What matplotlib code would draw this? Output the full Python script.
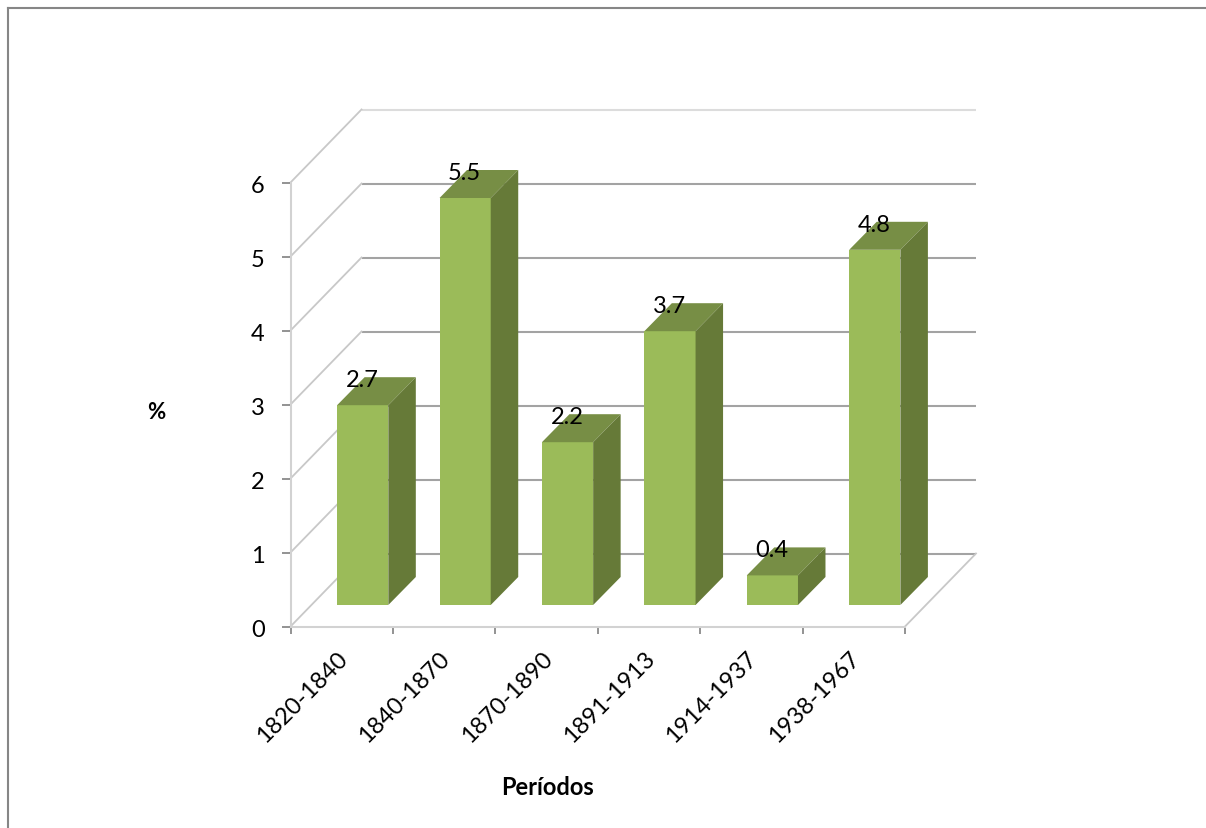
import matplotlib
matplotlib.use('Agg')
import matplotlib.pyplot as plt
from matplotlib.lines import Line2D
from matplotlib.patches import Polygon
from matplotlib.transforms import ScaledTranslation

periods = ['1820-1840', '1840-1870', '1870-1890', '1891-1913', '1914-1937', '1938-1967']
values = [2.7, 5.5, 2.2, 3.7, 0.4, 4.8]
y_ticks = [0, 1, 2, 3, 4, 5, 6]

plt.rcParams['font.family'] = ['Lato', 'DejaVu Sans']

W, H = 1206, 829
fig = plt.figure(figsize=(W / 100, H / 100), dpi=100, facecolor='white')
ax = fig.add_axes([290.5 / W, 1 - 627.5 / H, 614.5 / W, 444 / H])
ax.set_xlim(0, 6)
ax.set_ylim(0, 6)

# size of one pixel in data units, used for the fake depth of the 3d look
px_x = 6 / 614.5
px_y = 6 / 444
wall_dx, wall_dy = 71 * px_x, 73 * px_y
floor_dx, floor_dy = 21 * px_x, 21.5 * px_y
bar_dx, bar_dy = 27.5 * px_x, 28 * px_y
bar_w = 0.5

# back wall gridlines and side wall lines
for v in y_ticks:
    grid_col = '#dcdcdc' if v == 6 else '#a3a3a3'
    ax.plot([wall_dx, 6 + wall_dx], [v + wall_dy, v + wall_dy], color=grid_col, lw=1.5,
            clip_on=False, zorder=1, solid_capstyle='butt')
    ax.plot([0, wall_dx], [v, v + wall_dy], color='#c8c8c8', lw=1.3, clip_on=False, zorder=1)
ax.plot([6, 6 + wall_dx], [0, wall_dy], color='#c8c8c8', lw=1.3, clip_on=False, zorder=1)

# bars: front, top and side faces
for i, val in enumerate(values):
    x0 = i + 0.5 + floor_dx - bar_w / 2
    x1 = x0 + bar_w
    y0 = floor_dy
    y1 = val + floor_dy
    ax.add_patch(Polygon([(x0, y0), (x1, y0), (x1, y1), (x0, y1)], closed=True,
                         facecolor='#9bbb59', edgecolor='none', clip_on=False, zorder=3))
    ax.add_patch(Polygon([(x0, y1), (x1, y1), (x1 + bar_dx, y1 + bar_dy), (x0 + bar_dx, y1 + bar_dy)],
                         closed=True, facecolor='#778e45', edgecolor='none', clip_on=False, zorder=3))
    ax.add_patch(Polygon([(x1, y0), (x1 + bar_dx, y0 + bar_dy), (x1 + bar_dx, y1 + bar_dy), (x1, y1)],
                         closed=True, facecolor='#667a38', edgecolor='none', clip_on=False, zorder=3))
    ax.annotate(f'{val}', xy=((x0 + x1) / 2, y1), xytext=(-0.5, 18.5), textcoords='offset points',
                ha='center', va='center', fontsize=17, color='black', zorder=5, annotation_clip=False)

# axes, ticks and labels
for side in ['top', 'right']:
    ax.spines[side].set_visible(False)
for side in ['left', 'bottom']:
    ax.spines[side].set_color('#d2d2d2')
    ax.spines[side].set_linewidth(1.5)

ax.set_yticks(y_ticks)
ax.set_xticks(range(7))
ax.set_xticklabels([])
ax.set_xticks([i + 0.5 for i in range(6)], minor=True)
ax.set_xticklabels(periods, minor=True, rotation=45, ha='right', rotation_mode='anchor', fontsize=17)
ax.tick_params(axis='y', length=6.5, width=1.2, color='#808080', labelsize=17, pad=12)
ax.tick_params(axis='x', which='major', length=5, width=1.2, color='#808080')
ax.tick_params(axis='x', which='minor', length=0, pad=15)

# nudge the tick labels a little
x_shift = ScaledTranslation(-5 / 100, 0, fig.dpi_scale_trans)
for lab in ax.get_xticklabels(minor=True):
    lab.set_transform(lab.get_transform() + x_shift)
y_shift = ScaledTranslation(0, -1 / 100, fig.dpi_scale_trans)
for lab in ax.get_yticklabels():
    lab.set_transform(lab.get_transform() + y_shift)

ax.set_xlabel('Períodos', fontsize=17, fontweight='bold')
ax.xaxis.set_label_coords(0.419, -0.335)
ax.set_ylabel('%', fontsize=16, fontweight='bold', rotation=0, ha='center', va='center')
ax.yaxis.set_label_coords(-0.218, 0.485)

# outer chart frame, open on the right and at the bottom
fig.add_artist(Line2D([8 / W, 1], [1 - 8.5 / H, 1 - 8.5 / H], color='#868686', lw=1.5))
fig.add_artist(Line2D([8 / W, 8 / W], [1 - 8.5 / H, 0], color='#868686', lw=1.5))

fig.savefig('out.png', dpi=100)
